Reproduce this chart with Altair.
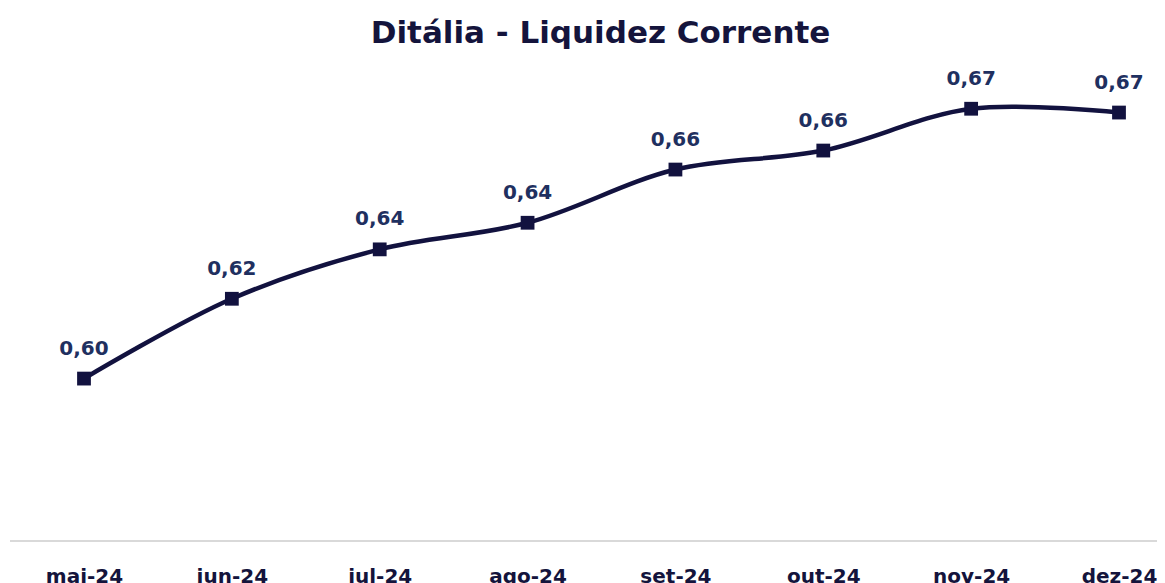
import altair as alt
import pandas as pd

months = ["mai-24", "jun-24", "jul-24", "ago-24", "set-24", "out-24", "nov-24", "dez-24"]
values = [0.602, 0.623, 0.636, 0.643, 0.657, 0.662, 0.673, 0.672]

df = pd.DataFrame({"mes": months, "valor": values})

LINE = "#12123f"
LABEL = "#1f3060"
FONT = "DejaVu Sans"

x = alt.X("mes:N", sort=months,
          scale=alt.Scale(type="point", range=[74, 1109], padding=0),
          axis=alt.Axis(title=None, labelAngle=0, ticks=False, labelPadding=24,
                        labelFontSize=20, labelFontWeight="bold", labelColor="#14143c",
                        labelFont=FONT, domain=False, grid=False))
y = alt.Y("valor:Q", scale=alt.Scale(domain=[0.559, 0.6853], nice=False, zero=False),
          axis=None)

base = alt.Chart(df).encode(x=x, y=y)

axisline = alt.Chart(df).mark_rule(color="#d9d9d9", strokeWidth=2).encode(
    x=alt.value(0), x2=alt.value(1147), y=alt.value(479))
line = base.mark_line(color=LINE, strokeWidth=4.5, interpolate="catmull-rom")
pts = base.mark_point(shape="square", filled=True, size=190, color=LINE, opacity=1)
labels = base.transform_calculate(
    lbl="replace(format(datum.valor, '.2f'), '.', ',')"
).mark_text(dy=-30, fontSize=20, fontWeight="bold", color=LABEL, font=FONT).encode(
    text="lbl:N")

chart = alt.layer(axisline, line, pts, labels).properties(
    width=1147, height=480,
    title=alt.TitleParams("Ditália - Liquidez Corrente", fontSize=31, fontWeight="bold",
                          color="#14143c", font=FONT, anchor="middle", dx=17, offset=12),
    autosize=alt.AutoSizeParams(type="none"),
    padding={"left": 2, "top": 54, "right": 0, "bottom": 60},
).configure_view(stroke=None)

chart.save("out.html", embed_options={"renderer": "svg", "actions": False})
